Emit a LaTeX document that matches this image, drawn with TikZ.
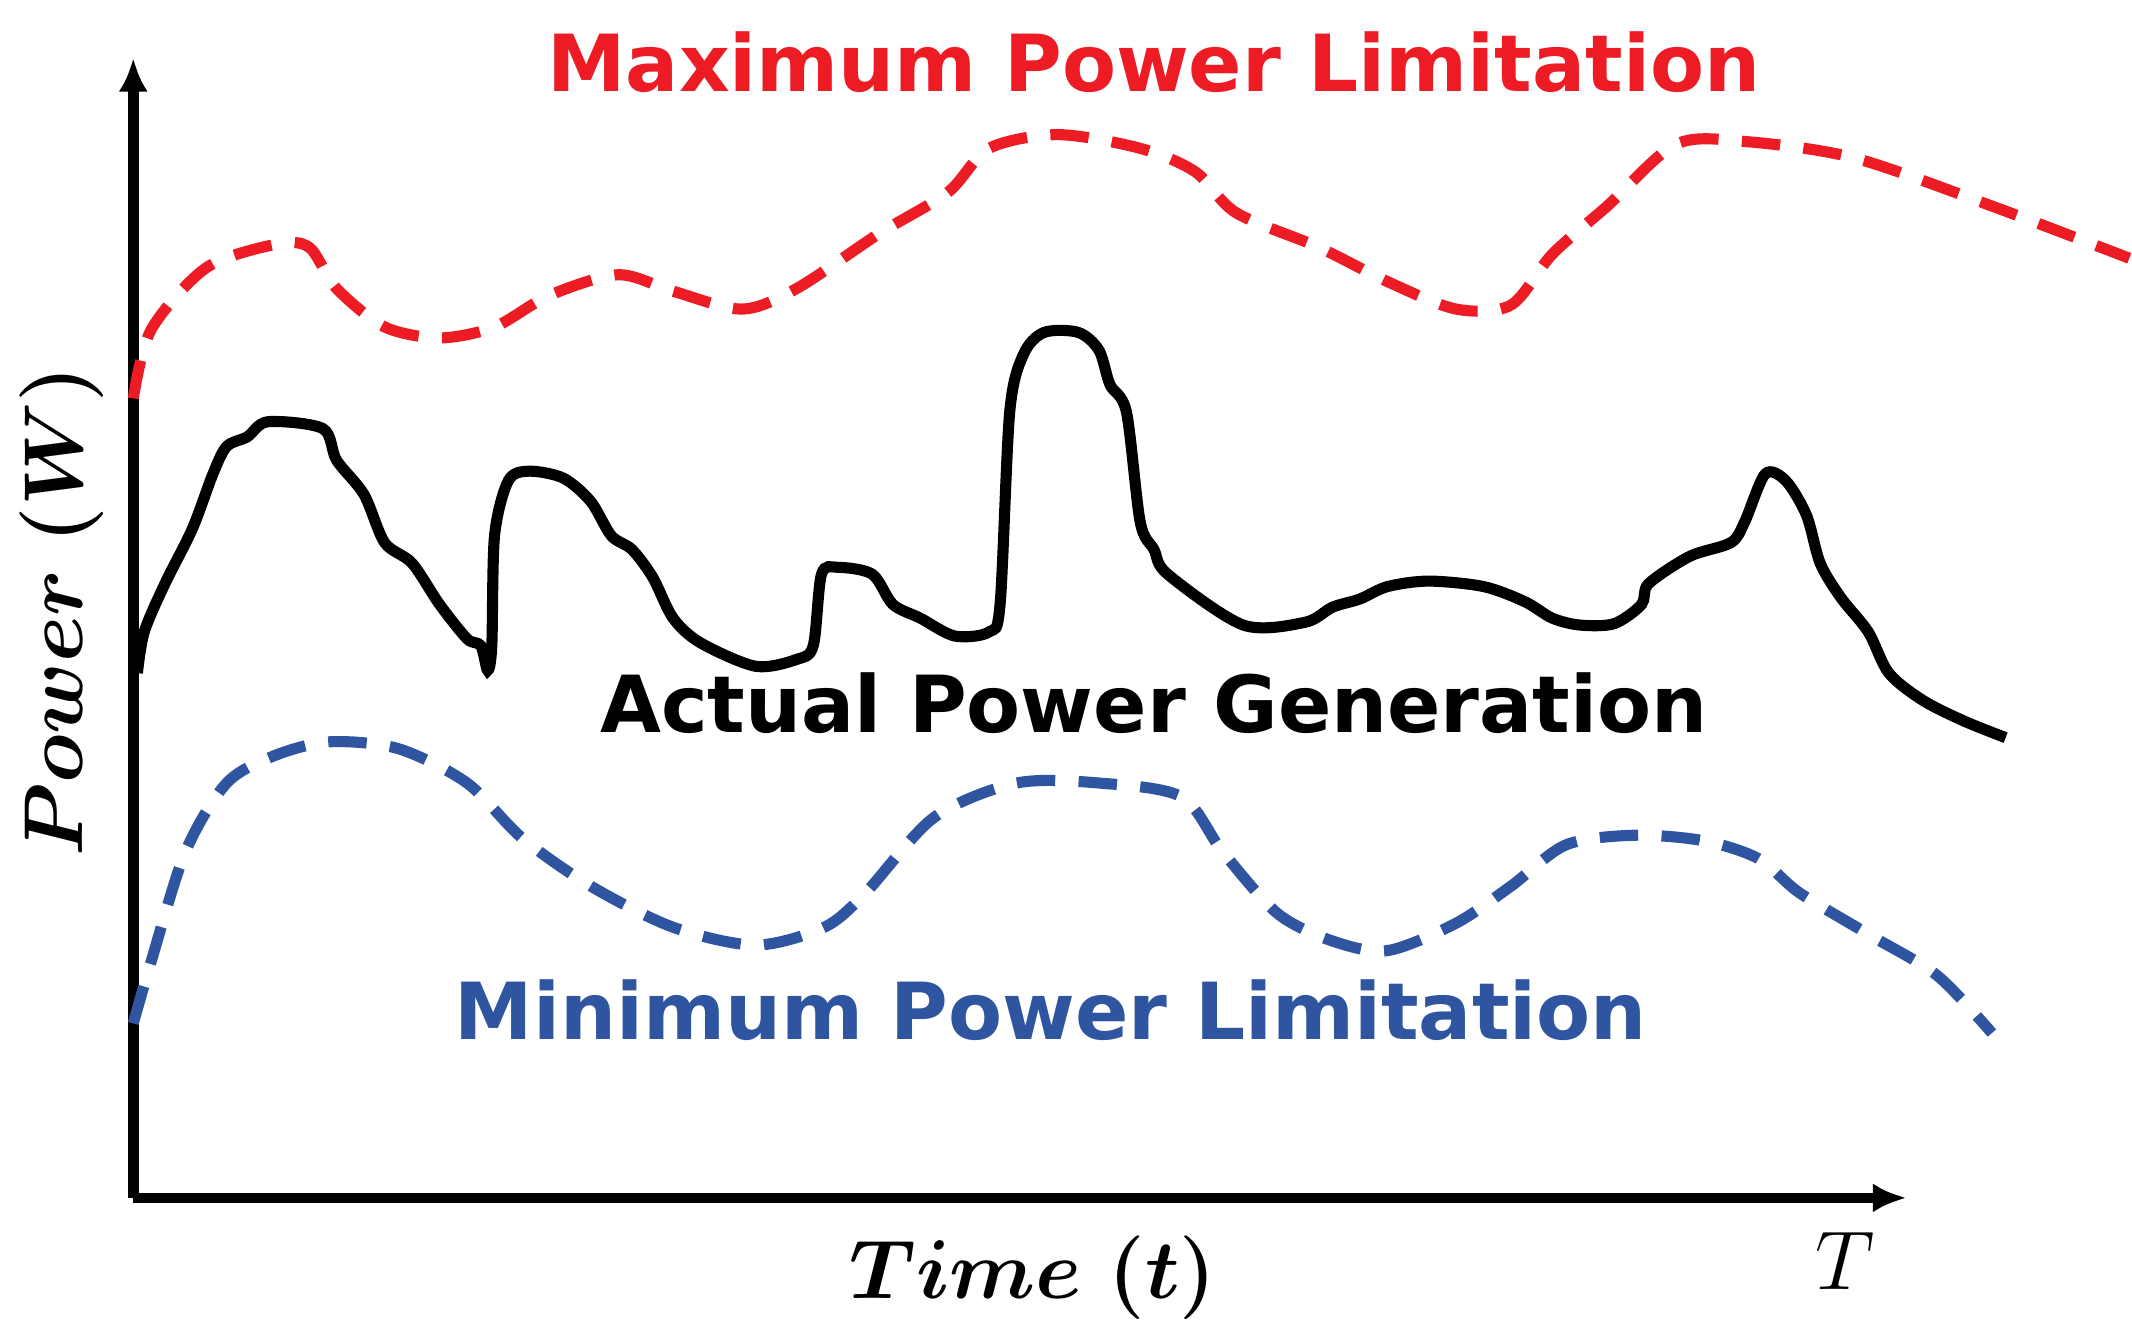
\documentclass[tikz,border=0pt]{standalone}
\usepackage{fontspec}
\usepackage{amsmath,bm}
\newfontfamily\lbl{DejaVu Sans}
\usetikzlibrary{arrows.meta}
\definecolor{rd}{RGB}{237,28,36}
\definecolor{bl}{RGB}{47,85,160}
\begin{document}
\begin{tikzpicture}[x=0.01cm,y=-0.01cm,
  curve/.style={line width=2.3pt,smooth,tension=0.5},
  dsh/.style={dash pattern=on 0.28cm off 0.17cm},
  ttl/.style={font=\lbl\bfseries\fontsize{16.3}{19}\selectfont}]
\useasboundingbox (0,0) rectangle (1552,976);
\fill[white] (0,0) rectangle (1552,976);
\coordinate (o) at (97,872);
\coordinate (ytop) at (97,42);
\coordinate (xend) at (1388,872);
\draw[line width=2.2pt,-{Latex[length=7pt,width=6pt]}] (o) -- (ytop);
\draw[line width=2.2pt,-{Latex[length=7pt,width=6pt]}] (o) -- (xend);
\draw[curve,rd,dsh] plot coordinates {(97,290)(110,240)(150,195)(200,178)(225,180)(245,210)(280,238)(320,246)(360,238)(400,215)(450,200)(490,212)(540,225)(580,210)(640,170)(690,140)(720,108)(770,98)(830,108)(870,125)(900,155)(960,180)(1010,205)(1060,225)(1100,222)(1130,185)(1170,150)(1220,105)(1270,103)(1350,115)(1450,150)(1550,188)};
\draw[curve,black] plot coordinates {(100,490)(105,460)(120,425)(140,385)(155,345)(165,325)(180,318)(195,307)(235,312)(245,335)(265,360)(280,395)(300,410)(320,440)(340,465)(350,470)(355,488)(358,470)(360,390)(370,350)(385,343)(410,348)(430,365)(445,390)(460,400)(475,420)(490,450)(510,468)(550,485)(580,480)(592,470)(598,418)(610,413)(635,418)(650,440)(670,450)(695,463)(720,460)(728,440)(735,300)(745,258)(760,242)(785,242)(800,255)(808,280)(820,300)(830,380)(840,400)(850,418)(905,455)(950,453)(970,442)(990,436)(1010,427)(1040,423)(1080,427)(1110,438)(1130,450)(1150,455)(1175,454)(1195,440)(1200,425)(1230,405)(1260,395)(1270,380)(1285,345)(1300,350)(1315,375)(1325,410)(1340,435)(1360,460)(1375,490)(1400,510)(1430,525)(1460,537)};
\draw[curve,bl,dsh] plot coordinates {(97,745)(110,700)(135,620)(165,570)(200,550)(240,540)(290,545)(340,570)(380,610)(430,645)(490,675)(550,688)(600,675)(630,650)(680,595)(740,570)(800,570)(860,580)(890,620)(930,665)(970,685)(1010,692)(1060,672)(1100,645)(1140,615)(1190,608)(1240,612)(1280,625)(1310,650)(1360,680)(1410,710)(1450,752)};
\node[ttl,rd] (tmax) at (840,45) {Maximum Power Limitation};
\node[ttl] (tact) at (840,512) {Actual Power Generation};
\node[ttl,bl] (tmin) at (765,735) {Minimum Power Limitation};
\node[font=\fontsize{18}{22}\selectfont] (tx) at (752,930) {$\bm{Time\ (t)}$};
\node[font=\fontsize{18}{22}\selectfont] (tT) at (1343,918) {$T$};
\node[font=\fontsize{18}{22}\selectfont,rotate=90] (ty) at (45,445) {$\bm{Power\ (W)}$};
\end{tikzpicture}
\end{document}
